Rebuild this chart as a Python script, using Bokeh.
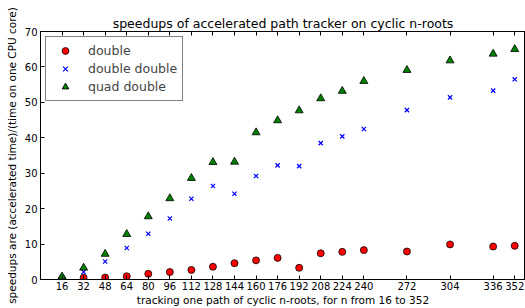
from bokeh.plotting import figure
from bokeh.models import Range1d, FixedTicker, LinearAxis, Legend, LegendItem
from bokeh.embed import file_html
from bokeh.resources import INLINE

n_values = [16, 32, 48, 64, 80, 96, 112, 128, 144, 160, 176, 192, 208, 224, 240, 272, 304, 336, 352]
double = [0.2, 0.5, 0.55, 0.9, 1.6, 2.1, 2.7, 3.6, 4.6, 5.4, 6.1, 3.3, 7.4, 7.8, 8.3, 7.9, 9.9, 9.3, 9.5]
double_double = [0.75, 2.1, 5.1, 8.9, 12.9, 17.2, 22.8, 26.4, 24.2, 29.2, 32.2, 32.0, 38.5, 40.4, 42.5, 47.8, 51.4, 53.3, 56.5]
quad_double = [0.8, 3.3, 7.2, 12.8, 17.8, 22.9, 28.6, 33.1, 33.2, 41.5, 44.9, 47.7, 51.1, 53.2, 56.0, 59.1, 61.8, 63.7, 65.0]
y_ticks = [0, 10, 20, 30, 40, 50, 60, 70]

FONT = "DejaVu Sans"

p = figure(width=525, height=308, output_backend="svg", toolbar_location=None,
           x_range=Range1d(0, 360), y_range=Range1d(0, 70),
           min_border_left=40, min_border_right=0, min_border_top=31, min_border_bottom=27)

p.title.text = "speedups of accelerated path tracker on cyclic n-roots"
p.title.align = "center"
p.title.text_font = FONT
p.title.text_font_size = "12.5px"
p.title.text_font_style = "normal"
p.title.text_color = "black"
p.title.standoff = 2

p.xgrid.grid_line_color = None
p.ygrid.grid_line_color = None
p.outline_line_color = "black"
p.outline_line_width = 1
p.outline_line_alpha = 1

xa = p.xaxis[0]
xa.ticker = FixedTicker(ticks=n_values, minor_ticks=[])
xa.axis_label = "tracking one path of cyclic n-roots, for n from 16 to 352"
ya = p.yaxis[0]
ya.ticker = FixedTicker(ticks=y_ticks, minor_ticks=[])
ya.axis_label = "speedups are (accelerated time)/(time on one CPU core)"

for ax in (xa, ya):
    ax.major_tick_in = 4
    ax.major_tick_out = 0
    ax.minor_tick_in = 0
    ax.minor_tick_out = 0
    ax.major_tick_line_color = "black"
    ax.axis_line_color = "black"
    ax.major_label_text_font = FONT
    ax.major_label_text_font_size = "10px"
    ax.major_label_text_color = "black"
    ax.axis_label_text_font = FONT
    ax.axis_label_text_font_size = "10.5px"
    ax.axis_label_text_font_style = "normal"
    ax.axis_label_text_color = "black"
xa.major_label_standoff = 2
xa.axis_label_standoff = 1
ya.major_label_standoff = 3
ya.axis_label_standoff = 4

top = LinearAxis(ticker=FixedTicker(ticks=n_values, minor_ticks=[]),
                 major_tick_in=4, major_tick_out=0, minor_tick_in=0, minor_tick_out=0,
                 major_label_text_font_size="1px", major_label_text_color=None,
                 major_label_standoff=0,
                 axis_line_color="black", major_tick_line_color="black")
p.add_layout(top, "above")

r1 = p.scatter(n_values, double, marker="circle", size=7, fill_color="#ff0000",
               line_color="black", line_width=0.8)
r2 = p.scatter(n_values, double_double, marker="x", size=6, line_color="#0000ff",
               line_width=1.2)
r3 = p.scatter(n_values, quad_double, marker="triangle", size=8, fill_color="#008000",
               line_color="black", line_width=0.8)

legend = Legend(items=[LegendItem(label="double", renderers=[r1]),
                       LegendItem(label="double double", renderers=[r2]),
                       LegendItem(label="quad double", renderers=[r3])],
                location="top_left", margin=5, padding=5, spacing=1,
                label_height=17, glyph_height=17, glyph_width=28, label_standoff=9,
                label_text_font=FONT, label_text_font_size="12.5px",
                border_line_color="black", border_line_width=1,
                background_fill_color="white", background_fill_alpha=1)
p.add_layout(legend, "center")

open("out.html", "w").write(file_html(p, INLINE))
